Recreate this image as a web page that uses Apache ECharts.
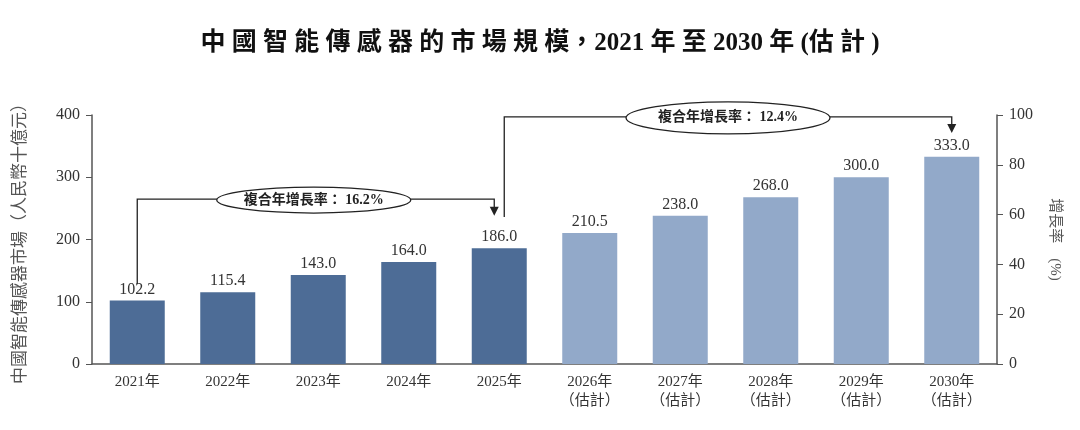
<!DOCTYPE html>
<html>
<head>
<meta charset="utf-8">
<script src="https://cdn.jsdelivr.net/npm/echarts@6/dist/echarts.min.js"></script>
<style>
  html, body { margin: 0; padding: 0; background: #fff; }
  #chart { width: 1080px; height: 430px; }
</style>
</head>
<body>
<div id="chart"></div>
<script>
// data
var years = ['2021年', '2022年', '2023年', '2024年', '2025年',
             '2026年\n（估計）', '2027年\n（估計）', '2028年\n（估計）', '2029年\n（估計）', '2030年\n（估計）'];
var marketSize = [102.2, 115.4, 143.0, 164.0, 186.0, 210.5, 238.0, 268.0, 300.0, 333.0];
var estimateFrom = 5; // first forecast year index
var leftTicks = { min: 0, max: 400, interval: 100 };
var rightTicks = { min: 0, max: 100, interval: 20 };

// CAGR brackets: from / to category index, label, y levels in left-axis units
var cagrLabels = ['複合年增長率： 16.2%', '複合年增長率： 12.4%'];
var cagrFrom = [0, 4];
var cagrTo = [4, 9];
var cagrLineY = [265, 397];
var cagrStartY = [128, 236];
var cagrTipY = [238, 371];

var SERIF = '"Liberation Serif", "Noto Sans CJK TC", serif';
var DARK = '#4d6c96';
var LIGHT = '#92a9c9';

var chart = echarts.init(document.getElementById('chart'));

var option = {
    animation: false,
    title: {
        // spaced out like the original heading
        text: '中 國 智 能 傳 感 器 的 市 場 規 模，2021 年 至 2030 年 (估 計 )',
        left: 'center',
        top: 26,
        textStyle: { fontFamily: SERIF, fontSize: 25, fontWeight: 'bold', color: '#111' }
    },
    grid: { left: 92, right: 83, top: 115, bottom: 66 },
    xAxis: {
        type: 'category',
        data: years,
        axisLine: { lineStyle: { color: '#555', width: 1.5 } },
        axisTick: { show: false },
        axisLabel: { fontFamily: SERIF, fontSize: 15, color: '#333', lineHeight: 19, margin: 9 }
    },
    yAxis: [{
        type: 'value',
        min: leftTicks.min, max: leftTicks.max, interval: leftTicks.interval,
        name: '中國智能傳感器市場（人民幣十億元）',
        nameLocation: 'middle',
        nameRotate: 90,
        nameGap: 63,
        nameTextStyle: { fontFamily: SERIF, fontSize: 17, color: '#555' },
        axisLine: { show: true, lineStyle: { color: '#555', width: 1.5 } },
        axisTick: { show: true, length: 6, lineStyle: { color: '#555' } },
        axisLabel: { fontFamily: SERIF, fontSize: 16, color: '#333', margin: 12 },
        splitLine: { show: false }
    }, {
        type: 'value',
        position: 'right',
        min: rightTicks.min, max: rightTicks.max, interval: rightTicks.interval,
        name: '增長率　(%)',
        nameLocation: 'middle',
        nameRotate: -90,
        nameGap: 50,
        nameTextStyle: { fontFamily: SERIF, fontSize: 15, color: '#555' },
        axisLine: { show: true, lineStyle: { color: '#555', width: 1.5 } },
        axisTick: { show: true, length: 6, lineStyle: { color: '#555' } },
        axisLabel: { fontFamily: SERIF, fontSize: 16, color: '#333', margin: 12 },
        splitLine: { show: false }
    }],
    series: [{
        type: 'bar',
        data: marketSize.map(function (v, i) {
            return { value: v, itemStyle: { color: i < estimateFrom ? DARK : LIGHT } };
        }),
        barWidth: 55,
        label: {
            show: true,
            position: 'top',
            distance: 3,
            formatter: function (p) { return p.value.toFixed(1); },
            fontFamily: SERIF, fontSize: 16, color: '#333'
        }
    }]
};
chart.setOption(option);

// annotation brackets placed through the axes
function px(cat, val) {
    return chart.convertToPixel({ xAxisIndex: 0, yAxisIndex: 0 }, [cat, val]);
}
var graphics = [];
cagrLabels.forEach(function (txt, k) {
    var a = px(cagrFrom[k], cagrStartY[k]);
    var top = px(cagrFrom[k], cagrLineY[k])[1];
    var b = px(cagrTo[k], cagrTipY[k]);
    var x0 = a[0] + (k === 0 ? 0 : 5);
    var x1 = b[0] - (k === 0 ? 5 : 0);
    var tip = b[1];
    graphics.push({
        type: 'polyline',
        shape: { points: [[x0, a[1]], [x0, top], [x1, top], [x1, tip - 7]] },
        style: { stroke: '#222', lineWidth: 1.3, fill: null }
    });
    graphics.push({
        type: 'polygon',
        shape: { points: [[x1 - 4.5, tip - 9], [x1 + 4.5, tip - 9], [x1, tip]] },
        style: { fill: '#222' }
    });
    var cx = (x0 + x1) / 2 + (k === 0 ? -2 : 0);
    graphics.push({
        type: 'ellipse',
        shape: { cx: cx, cy: top + 1, rx: k === 0 ? 97 : 102, ry: k === 0 ? 13 : 16 },
        style: { fill: '#fff', stroke: '#222', lineWidth: 1.3 }
    });
    graphics.push({
        type: 'text',
        x: cx, y: top + 1,
        style: {
            text: txt, align: 'center', verticalAlign: 'middle',
            font: 'bold 14px ' + SERIF, fill: '#222'
        }
    });
});
chart.setOption({ graphic: graphics });
</script>
</body>
</html>
